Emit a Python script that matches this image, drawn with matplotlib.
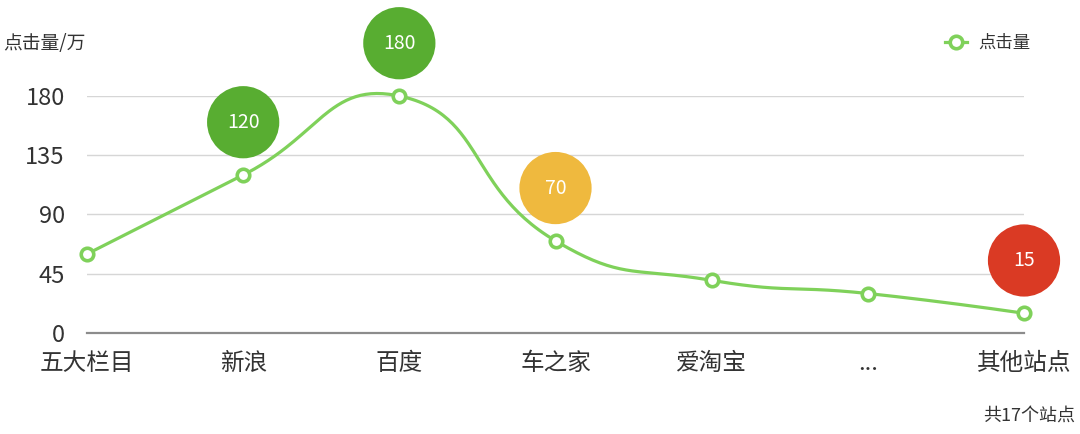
import numpy as np
import matplotlib
matplotlib.use("Agg")
import matplotlib.pyplot as plt
from matplotlib.lines import Line2D
from matplotlib.transforms import offset_copy

plt.rcParams['font.family'] = ['Noto Sans CJK SC', 'DejaVu Sans']

# data
sites = ["五大栏目", "新浪", "百度", "车之家", "爱淘宝", "...", "其他站点"]
clicks = [60, 120, 180, 70, 40, 30, 15]
yticks = [0, 45, 90, 135, 180]
# bubbles above the line: (site index, colour)
bubble_idx = [1, 2, 3, 6]
bubble_colors = ["#58ad31", "#58ad31", "#efb93e", "#da3a24"]

LINE = "#7fd15a"
TXT = "#333333"


def smooth_path(px, py, smooth=0.5):
    # echarts-like bezier smoothing, done in display coordinates
    pts = np.column_stack([px, py])
    n = len(pts)
    out = [pts[0]]
    cps = []
    for i in range(n):
        if i == 0 or i == n - 1:
            cps.append((pts[i], pts[i]))
            continue
        prev, cur, nxt = pts[i - 1], pts[i], pts[i + 1]
        v = nxt - prev
        d1 = np.hypot(*(cur - prev))
        d2 = np.hypot(*(nxt - cur))
        r = d2 / (d1 + d2)
        cps.append((cur - v * smooth * (1 - r), cur + v * smooth * r))
    t = np.linspace(0, 1, 60)[:, None]
    for i in range(n - 1):
        p0, p3 = pts[i], pts[i + 1]
        p1, p2 = cps[i][1], cps[i + 1][0]
        seg = ((1 - t) ** 3) * p0 + 3 * ((1 - t) ** 2) * t * p1 + 3 * (1 - t) * t ** 2 * p2 + t ** 3 * p3
        out.extend(seg[1:])
    return np.array(out)


fig = plt.figure(figsize=(10.8, 4.34), dpi=100)
ax = fig.add_axes([87 / 1080, 101 / 434, 937 / 1080, 237 / 434])
x = np.arange(len(sites))
ax.set_xlim(0, len(sites) - 1)
ax.set_ylim(0, 180)

for s in ["top", "right", "left"]:
    ax.spines[s].set_visible(False)
ax.spines["bottom"].set_color("#8c8c8c")
ax.spines["bottom"].set_linewidth(1.6)
ax.set_yticks(yticks)
ax.set_xticks(x)
ax.set_xticklabels(sites)
ax.tick_params(axis="both", length=0, labelsize=17, colors=TXT)
ax.tick_params(axis="y", pad=16)
ax.tick_params(axis="x", pad=14)
for v in yticks[1:]:
    ax.axhline(v, color="#d6d6d6", lw=1.0, zorder=0)

# smoothed line via display coords
fig.canvas.draw()
disp = ax.transData.transform(np.column_stack([x, clicks]))
curve = smooth_path(disp[:, 0], disp[:, 1])
curve_data = ax.transData.inverted().transform(curve)
ax.plot(curve_data[:, 0], curve_data[:, 1], color=LINE, lw=2.3, zorder=3, clip_on=False)
ax.plot(x, clicks, ls="none", marker="o", ms=9, mfc="white", mec=LINE, mew=2.6,
        zorder=4, clip_on=False)

# value bubbles, shifted up from each point
up = offset_copy(ax.transData, fig=fig, x=0, y=38, units="points")
bx = [x[i] for i in bubble_idx]
by = [clicks[i] for i in bubble_idx]
ax.scatter(bx, by, s=52 ** 2, c=bubble_colors, transform=up, zorder=5, clip_on=False, linewidths=0)
for xi, yi in zip(bx, by):
    ax.text(xi, yi, str(yi), transform=up, ha="center", va="center", fontsize=14,
            color="white", zorder=6)

fig.text(3 / 1080, 1 - 43 / 434, "点击量/万", fontsize=13.5, color=TXT, ha="left", va="center")
fig.text(1075 / 1080, 1 - 416 / 434, "共17个站点", fontsize=13, color=TXT, ha="right", va="center")

handle = Line2D([], [], color=LINE, lw=2.3, marker="o", ms=9, mfc="white", mec=LINE, mew=2.6)
fig.legend(handles=[handle], labels=["点击量"], loc="center right",
           bbox_to_anchor=(1030 / 1080, 1 - 43 / 434), frameon=False, fontsize=12.5,
           handlelength=1.3, handletextpad=0.6, borderpad=0, borderaxespad=0, labelcolor=TXT)

fig.savefig("out.png", dpi=100)
